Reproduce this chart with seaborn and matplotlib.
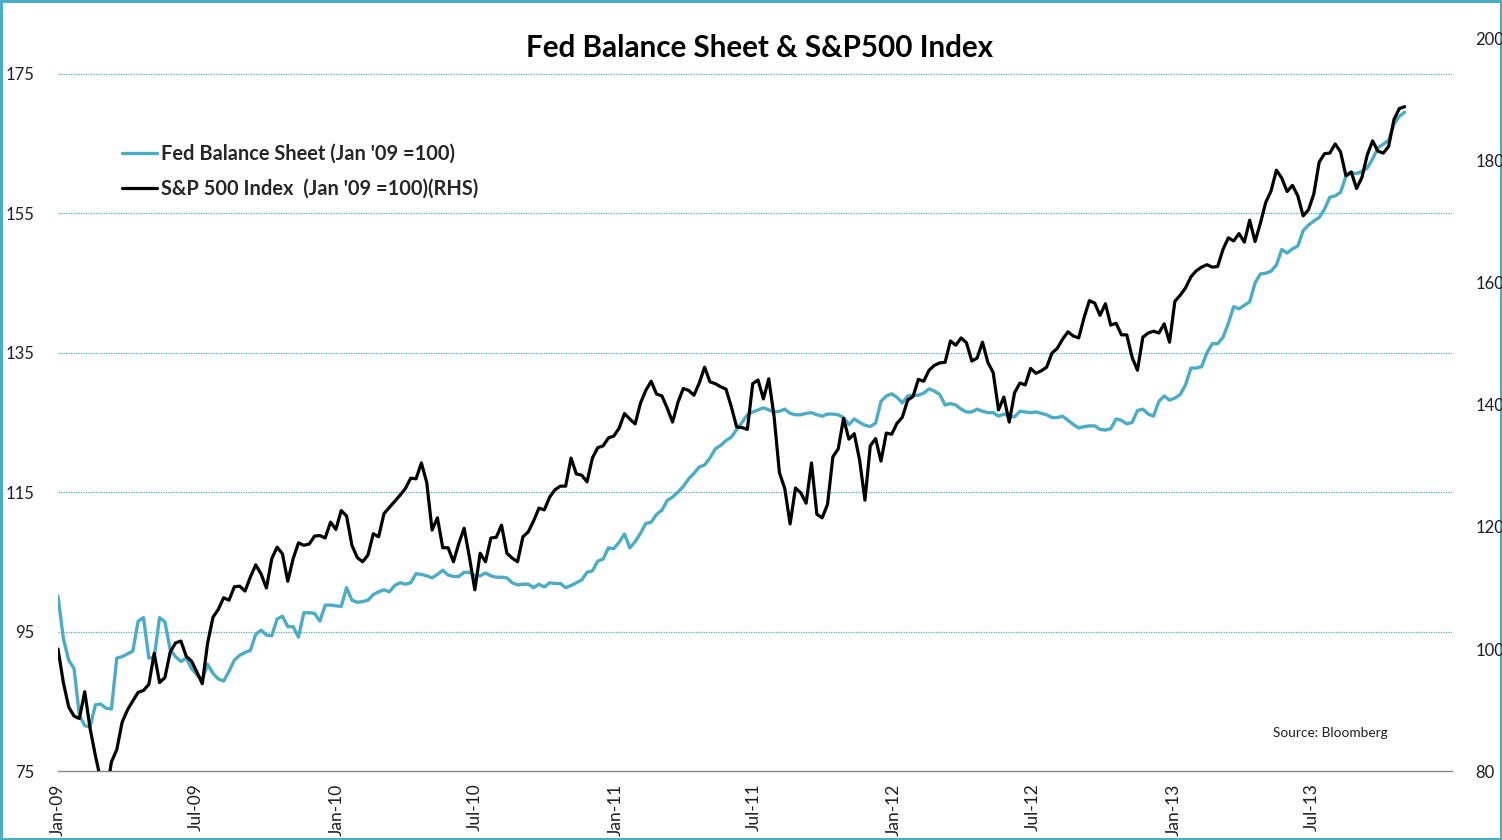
import numpy as np
import pandas as pd
import matplotlib
matplotlib.use("Agg")
import matplotlib.pyplot as plt
import matplotlib.dates as mdates
import seaborn as sns

# ---- data (weekly, rebased Jan '09 = 100) ----
start_date = "2009-01-01"

fed_balance = [
    100.1, 94.0, 90.9, 89.7, 83.0, 81.5, 81.3, 84.5, 84.6, 84.0,
    83.9, 91.2, 91.4, 91.8, 92.2, 96.5, 97.0, 91.2, 91.3, 97.0,
    96.4, 92.4, 91.4, 90.7, 91.2, 89.7, 88.8, 88.1, 90.3, 89.0,
    88.2, 87.9, 89.3, 90.9, 91.6, 92.0, 92.3, 94.6, 95.2, 94.5,
    94.4, 96.8, 97.2, 95.7, 95.7, 94.2, 97.7, 97.7, 97.6, 96.5,
    98.8, 98.8, 98.7, 98.6, 101.3, 99.5, 99.2, 99.3, 99.5, 100.3,
    100.7, 101.0, 100.7, 101.6, 102.0, 101.8, 102.0, 103.3, 103.2, 103.0,
    102.7, 103.2, 103.8, 103.1, 102.9, 102.9, 103.5, 103.5, 103.0, 103.0,
    103.4, 103.0, 102.8, 102.8, 102.7, 102.0, 101.7, 101.8, 101.8, 101.3,
    101.8, 101.4, 102.0, 101.9, 101.9, 101.3, 101.6, 102.0, 102.4, 103.5,
    103.7, 105.1, 105.4, 107.0, 106.9, 107.8, 109.0, 107.0, 107.9, 109.1,
    110.5, 110.7, 111.8, 112.4, 113.8, 114.3, 115.0, 115.8, 116.9, 117.7,
    118.6, 118.9, 119.9, 121.2, 121.7, 122.4, 122.9, 124.0, 125.0, 126.1,
    126.5, 126.8, 127.1, 126.8, 126.5, 126.6, 126.9, 126.3, 126.1, 126.1,
    126.3, 126.4, 126.1, 125.9, 126.2, 126.2, 126.1, 125.7, 124.7, 125.5,
    125.0, 124.6, 124.4, 124.9, 128.0, 128.8, 129.1, 128.6, 127.8, 128.8,
    128.9, 128.9, 129.2, 129.8, 129.5, 129.0, 127.5, 127.7, 127.5, 126.9,
    126.5, 126.5, 126.9, 126.6, 126.4, 126.4, 125.9, 126.2, 125.9, 125.8,
    126.6, 126.5, 126.4, 126.5, 126.3, 126.1, 125.7, 125.7, 125.9, 125.3,
    124.7, 124.2, 124.4, 124.5, 124.5, 124.0, 123.9, 124.1, 125.5, 125.3,
    124.8, 125.0, 126.7, 126.9, 126.2, 125.9, 128.0, 128.8, 128.2, 128.5,
    129.0, 130.4, 132.8, 132.8, 133.0, 135.0, 136.3, 136.3, 137.2, 139.2,
    141.6, 141.3, 141.8, 142.3, 145.0, 146.3, 146.4, 146.7, 147.6, 149.8,
    149.3, 149.9, 150.3, 152.5, 153.3, 153.9, 154.4, 155.6, 157.3, 157.5,
    158.0, 160.3, 160.8, 160.7, 161.0, 161.5, 162.8, 164.4, 164.9, 165.5,
    167.8, 168.9, 169.5,
]

sp500 = [
    100.0, 94.5, 90.5, 89.0, 88.6, 93.0, 87.0, 82.5, 78.5, 76.0,
    81.5, 83.5, 88.0, 90.0, 91.5, 92.9, 93.2, 94.2, 99.3, 94.5,
    95.3, 99.5, 101.0, 101.3, 98.8, 98.0, 96.2, 94.3, 101.0, 105.2,
    106.5, 108.4, 108.0, 110.2, 110.3, 109.5, 111.8, 113.8, 112.3, 110.0,
    114.8, 116.7, 115.6, 111.1, 114.8, 117.4, 117.0, 117.2, 118.5, 118.6,
    118.2, 120.8, 119.6, 122.7, 121.8, 117.0, 115.0, 114.3, 115.4, 118.9,
    118.4, 122.2, 123.2, 124.2, 125.2, 126.3, 128.0, 127.9, 130.5, 127.3,
    119.5, 121.5, 116.6, 116.6, 114.3, 117.3, 119.8, 115.0, 109.7, 115.7,
    114.3, 118.2, 118.3, 120.3, 115.7, 114.9, 114.3, 118.4, 119.2, 121.0,
    123.1, 122.8, 124.9, 126.1, 126.7, 126.7, 131.3, 128.7, 128.5, 127.4,
    131.3, 133.0, 133.3, 134.6, 134.9, 136.2, 138.6, 137.7, 136.9, 140.3,
    142.4, 143.9, 141.8, 141.5, 139.5, 137.2, 140.4, 142.7, 142.4, 141.6,
    143.6, 146.2, 143.8, 143.5, 143.0, 142.6, 139.7, 136.4, 136.3, 136.0,
    143.5, 144.1, 141.0, 144.3, 138.1, 128.9, 126.3, 120.5, 126.4, 125.6,
    123.9, 130.5, 122.1, 121.5, 123.7, 131.5, 132.8, 137.8, 134.4, 135.3,
    131.0, 124.4, 133.3, 134.5, 130.8, 135.4, 135.2, 137.0, 138.0, 140.8,
    141.4, 144.2, 143.9, 145.7, 146.5, 146.9, 147.0, 150.5, 149.8, 151.0,
    150.2, 147.2, 147.7, 150.3, 147.0, 145.3, 139.2, 141.3, 137.2, 142.0,
    143.6, 143.3, 146.0, 145.2, 145.6, 146.2, 148.5, 149.3, 150.8, 152.0,
    151.3, 151.0, 154.3, 157.1, 156.7, 154.7, 156.6, 153.1, 153.4, 151.5,
    151.5, 147.8, 145.7, 151.1, 151.8, 152.1, 151.8, 153.3, 150.3, 157.0,
    158.0, 159.2, 161.0, 162.0, 162.6, 163.0, 162.6, 162.7, 165.5, 167.4,
    166.9, 168.1, 166.7, 170.3, 166.8, 169.8, 173.2, 175.1, 178.5, 177.2,
    175.0, 176.0, 174.3, 171.0, 172.0, 174.6, 179.8, 181.2, 181.3, 182.8,
    181.5, 177.6, 178.2, 175.5, 177.3, 181.0, 183.3, 181.6, 181.3, 182.4,
    186.8, 188.6, 188.9,
]

left_ticks = [75, 95, 115, 135, 155, 175]
right_ticks = [80, 100, 120, 140, 160, 180, 200]
x_tick_dates = ["2009-01-01", "2009-07-01", "2010-01-01", "2010-07-01",
                "2011-01-01", "2011-07-01", "2012-01-01", "2012-07-01",
                "2013-01-01", "2013-07-01"]

title = "Fed Balance Sheet & S&P500 Index"
label_fed = "Fed Balance Sheet (Jan '09 =100)"
label_sp = "S&P 500 Index  (Jan '09 =100)(RHS)"
source = "Source: Bloomberg"

dates = pd.date_range(start_date, periods=len(fed_balance), freq="7D")
df = pd.DataFrame({"date": dates, "fed": fed_balance, "sp": sp500})

# ---- style ----
sns.set_style("white")
plt.rcParams["font.family"] = ["Lato", "DejaVu Sans"]

TEAL = "#4BACC6"
TXT = "#1e1e1e"
fig = plt.figure(figsize=(15.02, 8.40), dpi=100)
fig.patch.set_edgecolor(TEAL)
fig.patch.set_linewidth(2.5)
ax = fig.add_axes([58 / 1502, 1 - 771 / 840, (1452 - 58) / 1502, (771 - 39) / 840])
ax2 = ax.twinx()

sns.lineplot(data=df, x="date", y="fed", ax=ax, color=TEAL, linewidth=2.4,
             label=label_fed, legend=False)
sns.lineplot(data=df, x="date", y="sp", ax=ax2, color="black", linewidth=2.3,
             label=label_sp, legend=False)

ax.set_ylim(75, 180)
ax2.set_ylim(80, 200)
ax.set_xlim(pd.Timestamp("2009-01-01"), pd.Timestamp("2014-01-01"))
ax.set_yticks(left_ticks)
ax2.set_yticks(right_ticks)
ax.set_xlabel("")
ax.set_ylabel("")
ax2.set_ylabel("")

for gy in left_ticks[1:]:
    ax.axhline(gy, color=TEAL, linestyle=(0, (1, 1)), linewidth=0.9, zorder=0)

ax.set_xticks(pd.to_datetime(x_tick_dates))
ax.xaxis.set_major_formatter(mdates.DateFormatter("%b-%y"))

for a in (ax, ax2):
    for s in ("top", "left", "right", "bottom"):
        a.spines[s].set_visible(False)
ax.spines["bottom"].set_visible(True)
ax.spines["bottom"].set_color("#868686")
ax.spines["bottom"].set_linewidth(1.0)

ax.tick_params(axis="x", direction="out", length=5, width=1, color="#868686",
               labelsize=12.5, labelcolor=TXT, pad=4, labelrotation=90)
ax.tick_params(axis="y", length=0, labelsize=12, labelcolor=TXT, pad=17)
ax2.tick_params(axis="y", length=0, labelsize=12, labelcolor=TXT, pad=17)

ax.patch.set_visible(False)
ax2.patch.set_visible(False)

fig.text(760 / 1502, 1 - 48 / 840, title, ha="center", va="center",
         fontsize=21.3, fontweight="bold", color="black")

h1, l1 = ax.get_legend_handles_labels()
h2, l2 = ax2.get_legend_handles_labels()
ax.legend(h1 + h2, l1 + l2, loc="center left",
          bbox_to_anchor=((122 - 58) / 1394, (771 - 171) / 732),
          frameon=False, prop={"weight": "bold", "size": 14.4},
          handlelength=1.75, handletextpad=0.2, labelspacing=0.75,
          borderpad=0, borderaxespad=0)

ax.text((1388 - 58) / 1394, (771 - 733) / 732, source, transform=ax.transAxes,
        ha="right", va="center", fontsize=9.8, color=TXT)

fig.savefig("out.png", dpi=100, facecolor="white", edgecolor=TEAL)
